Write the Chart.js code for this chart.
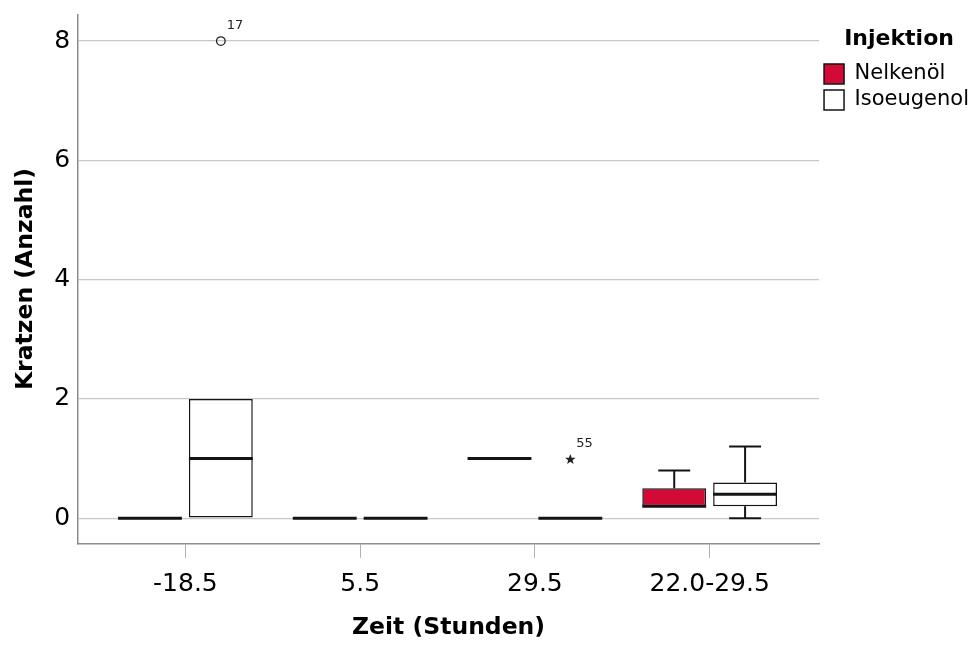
<!DOCTYPE html>
<html><head><meta charset="utf-8">
<script src="https://cdn.jsdelivr.net/npm/chart.js@4.4.1/dist/chart.umd.min.js"></script>
<style>html,body{margin:0;padding:0;background:#fff;} canvas{display:block;}</style>
</head><body>
<canvas id="c" width="979" height="646"></canvas>
<script>
// ---- data ----
const categories = ['-18.5', '5.5', '29.5', '22.0-29.5'];
const seriesNames = ['Nelkenöl', 'Isoeugenol'];
const nelkenMin    = [0, 0, 1, 0.2];
const nelkenQ1     = [0, 0, 1, 0.2];
const nelkenMedian = [0, 0, 1, 0.2];
const nelkenQ3     = [0, 0, 1, 0.5];
const nelkenMax    = [0, 0, 1, 0.8];
const isoMin    = [0, 0, 0, 0];
const isoQ1     = [0, 0, 0, 0.2];
const isoMedian = [1, 0, 0, 0.4];
const isoQ3     = [2, 0, 0, 0.6];
const isoMax    = [2, 0, 0, 1.2];
const outlierSeries   = [1, 1];
const outlierCategory = [0, 2];
const outlierValue    = [8, 1];
const outlierCase     = ['17', '55'];
const outlierKind     = ['circle', 'star'];
const yTicks = [0, 2, 4, 6, 8];

const stats = [
  {min: nelkenMin, q1: nelkenQ1, med: nelkenMedian, q3: nelkenQ3, max: nelkenMax},
  {min: isoMin, q1: isoQ1, med: isoMedian, q3: isoQ3, max: isoMax}
];

Chart.defaults.font.family = '"DejaVu Sans", sans-serif';
Chart.defaults.color = '#000';

const boxplotPlugin = {
  id: 'boxplot',
  afterDatasetsDraw(chart) {
    const ctx = chart.ctx;
    const ys = chart.scales.y;
    const line = (x1, y1, x2, y2) => { ctx.beginPath(); ctx.moveTo(x1, y1); ctx.lineTo(x2, y2); ctx.stroke(); };
    ctx.save();
    ctx.strokeStyle = '#141414';
    ctx.lineCap = 'butt';
    stats.forEach((s, di) => {
      const meta = chart.getDatasetMeta(di);
      meta.data.forEach((bar, i) => {
        const {x: cx, width: w} = bar.getProps(['x', 'width'], true);
        ctx.lineWidth = 2;
        if (s.max[i] > s.q3[i]) {
          const yq = ys.getPixelForValue(s.q3[i]), ym = ys.getPixelForValue(s.max[i]);
          line(cx, yq, cx, ym);
          line(cx - w / 4, ym, cx + w / 4, ym);
        }
        if (s.min[i] < s.q1[i]) {
          const yq = ys.getPixelForValue(s.q1[i]), ym = ys.getPixelForValue(s.min[i]);
          line(cx, yq, cx, ym);
          line(cx - w / 4, ym, cx + w / 4, ym);
        }
        ctx.lineWidth = 3;
        const yMed = ys.getPixelForValue(s.med[i]);
        line(cx - w / 2, yMed, cx + w / 2, yMed);
      });
    });
    // outliers / extremes
    outlierValue.forEach((v, k) => {
      const bar = chart.getDatasetMeta(outlierSeries[k]).data[outlierCategory[k]];
      const cx = bar.getProps(['x'], true).x;
      const py = ys.getPixelForValue(v);
      ctx.lineWidth = 1.3;
      ctx.strokeStyle = '#222';
      ctx.fillStyle = '#222';
      if (outlierKind[k] === 'circle') {
        ctx.beginPath(); ctx.arc(cx, py, 4.3, 0, Math.PI * 2); ctx.stroke();
      } else {
        ctx.beginPath();
        for (let j = 0; j < 10; j++) {
          const r = j % 2 === 0 ? 5.5 : 2.3;
          const a = -Math.PI / 2 + j * Math.PI / 5;
          const px = cx + r * Math.cos(a), pyy = py + 1 + r * Math.sin(a);
          if (j === 0) ctx.moveTo(px, pyy); else ctx.lineTo(px, pyy);
        }
        ctx.closePath(); ctx.fill();
      }
      ctx.font = '13px "DejaVu Sans", sans-serif';
      ctx.textAlign = 'left';
      ctx.textBaseline = 'middle';
      ctx.fillText(outlierCase[k], cx + 6, py - 15);
    });
    ctx.restore();
  }
};

const datasets = seriesNames.map((name, di) => ({
  label: name,
  data: categories.map((c, i) => ({x: i, y: [stats[di].q1[i], stats[di].q3[i]]})),
  backgroundColor: di === 0 ? '#D20A35' : '#ffffff',
  borderColor: '#141414',
  borderWidth: 1.5,
  borderSkipped: false,
  categoryPercentage: 0.811,
  barPercentage: 0.901
}));

new Chart(document.getElementById('c'), {
  type: 'bar',
  data: {datasets},
  plugins: [boxplotPlugin],
  options: {
    responsive: false,
    animation: false,
    layout: {padding: {top: 14, left: 0, right: 0, bottom: 0}},
    plugins: {
      tooltip: {enabled: false},
      legend: {
        position: 'right',
        align: 'start',
        title: {display: true, text: 'Injektion', color: '#000',
                font: {size: 22, weight: 'bold'}, padding: {top: 14, bottom: 4}},
        labels: {boxWidth: 20, boxHeight: 20, font: {size: 21}, color: '#000', padding: 5}
      }
    },
    scales: {
      x: {
        type: 'linear', min: -0.614, max: 3.626, offset: false,
        afterBuildTicks: s => { s.ticks = categories.map((c, i) => ({value: i})); },
        ticks: {callback: v => categories[v], font: {size: 25}, color: '#000', padding: 12,
                autoSkip: false, maxRotation: 0},
        grid: {offset: false, drawOnChartArea: false, drawTicks: true, tickLength: 14, color: '#b0b0b0'},
        border: {display: true, color: '#8c8c8c', width: 1.5},
        title: {display: true, text: 'Zeit (Stunden)', color: '#000',
                font: {size: 23.5, weight: 'bold'}, padding: {top: 2, bottom: 4}}
      },
      y: {
        min: -0.43, max: 8.45,
        afterBuildTicks: s => { s.ticks = yTicks.map(v => ({value: v})); },
        ticks: {font: {size: 25, lineHeight: 0.5}, color: '#000', padding: 8},
        grid: {drawTicks: false, color: '#c8c8c8', lineWidth: 1.2},
        border: {display: true, color: '#8c8c8c', width: 1.5},
        title: {display: true, text: 'Kratzen (Anzahl)', color: '#000',
                font: {size: 23.5, weight: 'bold'}, padding: {top: 12, bottom: 6}}
      }
    }
  }
});
</script>
</body></html>
